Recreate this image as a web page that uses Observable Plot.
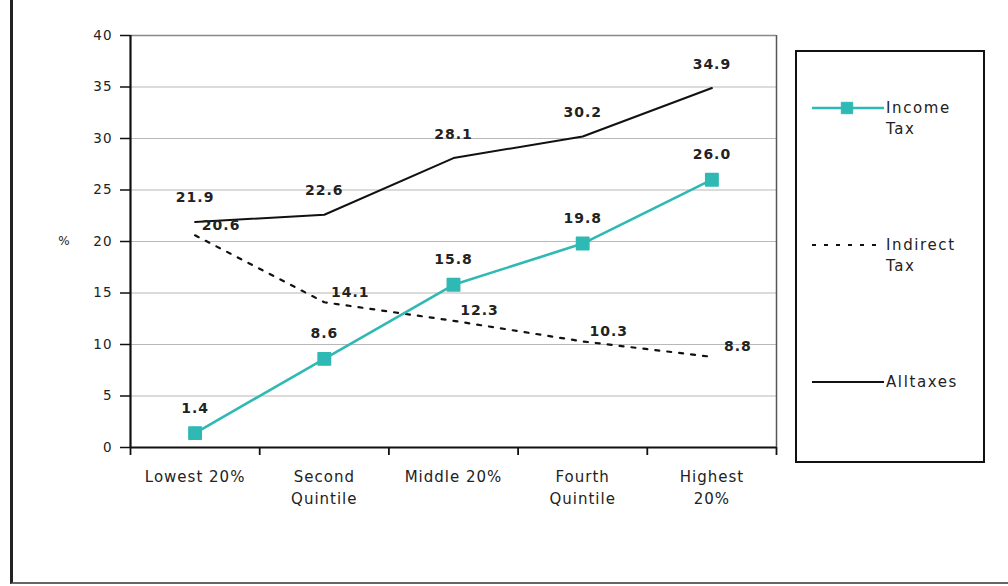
<!DOCTYPE html>
<html>
<head>
<meta charset="utf-8">
<script src="https://cdn.jsdelivr.net/npm/d3@7"></script>
<script src="https://cdn.jsdelivr.net/npm/@observablehq/plot@0.6"></script>
<style>
  html, body { margin: 0; padding: 0; background: #fff; }
  #wrap { position: relative; width: 1008px; height: 586px; overflow: hidden; font-family: "DejaVu Sans", sans-serif; }
  #outer { position: absolute; left: 10px; top: -2px; width: 1010px; height: 586px; border-left: 3px solid #222; border-bottom: 2px solid #666; box-sizing: border-box; }
  #chart { position: absolute; left: 0; top: 0; }
  #legend { position: absolute; left: 795px; top: 50px; width: 190px; height: 413px; border: 2px solid #111; box-sizing: border-box; background: #fff; }
  .row { position: absolute; left: 15px; width: 170px; }
  .row svg { position: absolute; left: 0; }
  .row .lbl { position: absolute; left: 74px; font-size: 15px; line-height: 21px; letter-spacing: 1.6px; color: #222; white-space: nowrap; }
</style>
</head>
<body>
<div id="wrap">
  <div id="outer"></div>
  <div id="chart"></div>
  <div id="legend"></div>
</div>
<script>
// Tax as a share of gross income, by income quintile
const categories = ["Lowest 20%", "Second\nQuintile", "Middle 20%", "Fourth\nQuintile", "Highest\n20%"];
const incomeTax = [1.4, 8.6, 15.8, 19.8, 26.0];
const indirectTax = [20.6, 14.1, 12.3, 10.3, 8.8];
const allTaxes = [21.9, 22.6, 28.1, 30.2, 34.9];
const yTicks = [0, 5, 10, 15, 20, 25, 30, 35, 40];

const teal = "#2fb9b4";
const fmt = d3.format(".1f");

// each category sits in the middle of its slot; tick marks fall on slot boundaries
const rows = (values) => values.map((v, i) => ({i, x: i + 0.5, v}));
const inc = rows(incomeTax);
const ind = rows(indirectTax);
const all = rows(allTaxes);
const slotEdges = d3.range(categories.length + 1);
const slotCenters = categories.map((c, i) => i + 0.5);

const chart = Plot.plot({
  width: 1008,
  height: 586,
  marginLeft: 130,
  marginRight: 232,
  marginTop: 35,
  marginBottom: 139,
  style: {fontFamily: "DejaVu Sans, sans-serif", fontSize: "13px", color: "#222", background: "transparent", letterSpacing: "1px"},
  x: {domain: [0, categories.length]},
  y: {domain: [0, 40]},
  marks: [
    Plot.gridY(yTicks, {stroke: "#b8b8b8", strokeOpacity: 1, strokeWidth: 1.2}),
    Plot.ruleY([40], {stroke: "#888", strokeWidth: 1.5}),
    Plot.ruleX([categories.length], {stroke: "#555", strokeWidth: 1.5}),
    Plot.axisY(yTicks, {tickSize: 10, tickPadding: 8, stroke: "#111", strokeWidth: 1.5, label: null, fontSize: 13.5}),
    Plot.axisX(slotEdges, {tickSize: 8, tickFormat: () => "", stroke: "#111", strokeWidth: 1.8, label: null}),
    Plot.axisX(slotCenters, {tickSize: 0, tickPadding: 19, tickFormat: (d) => categories[Math.floor(d)], lineHeight: 1.45, label: null, fontSize: 15, letterSpacing: 1.8}),
    Plot.ruleX([0], {stroke: "#111", strokeWidth: 2.2}),
    Plot.ruleY([0], {stroke: "#111", strokeWidth: 2.2}),
    Plot.text(["%"], {x: 0, y: 20, dx: -66, fontSize: 12}),
    // series
    Plot.line(all, {x: "x", y: "v", stroke: "#111", strokeWidth: 2}),
    Plot.line(ind, {x: "x", y: "v", stroke: "#111", strokeWidth: 2.2, strokeDasharray: "4,8"}),
    Plot.line(inc, {x: "x", y: "v", stroke: teal, strokeWidth: 2.6}),
    Plot.dot(inc, {x: "x", y: "v", symbol: "square", r: 7, fill: teal, stroke: teal, strokeWidth: 1.5, strokeLinejoin: "round"}),
    // value labels
    Plot.text(all, {x: "x", y: "v", text: (d) => fmt(d.v), dy: -24, fontSize: 14, fontWeight: "bold", letterSpacing: 1.5, fill: "#222"}),
    Plot.text(inc, {x: "x", y: "v", text: (d) => fmt(d.v), dy: -25, fontSize: 14, fontWeight: "bold", letterSpacing: 1.5, fill: "#222"}),
    Plot.text(ind, {x: "x", y: "v", text: (d) => fmt(d.v), dx: 26, dy: -10, fontSize: 14, fontWeight: "bold", letterSpacing: 1.5, fill: "#222"})
  ]
});
document.getElementById("chart").appendChild(chart);

// legend: one row per series, swatch on the left and a wrapped name on the right
const legendItems = [
  {lines: ["Income", "Tax"], stroke: teal, width: 2.6, dash: null, marker: true, top: 56},
  {lines: ["Indirect", "Tax"], stroke: "#111", width: 2.2, dash: "4,8", marker: false, top: 193},
  {lines: ["Alltaxes"], stroke: "#111", width: 2, dash: null, marker: false, top: 330}
];
const legend = d3.select("#legend");
for (const item of legendItems) {
  const row = legend.append("div").attr("class", "row").style("top", item.top + "px");
  const svg = row.append("svg").attr("width", 72).attr("height", 16).style("top", "-8px");
  svg.append("line").attr("x1", 0).attr("x2", 72).attr("y1", 8).attr("y2", 8)
    .attr("stroke", item.stroke).attr("stroke-width", item.width)
    .attr("stroke-dasharray", item.dash);
  if (item.marker) {
    svg.append("path").attr("d", d3.symbol(d3.symbolSquare, 130)()).attr("transform", "translate(35,8)")
      .attr("fill", item.stroke).attr("stroke", item.stroke).attr("stroke-linejoin", "round");
  }
  row.append("div").attr("class", "lbl").style("top", "-10.5px").html(item.lines.join("<br>"));
}
</script>
</body>
</html>
